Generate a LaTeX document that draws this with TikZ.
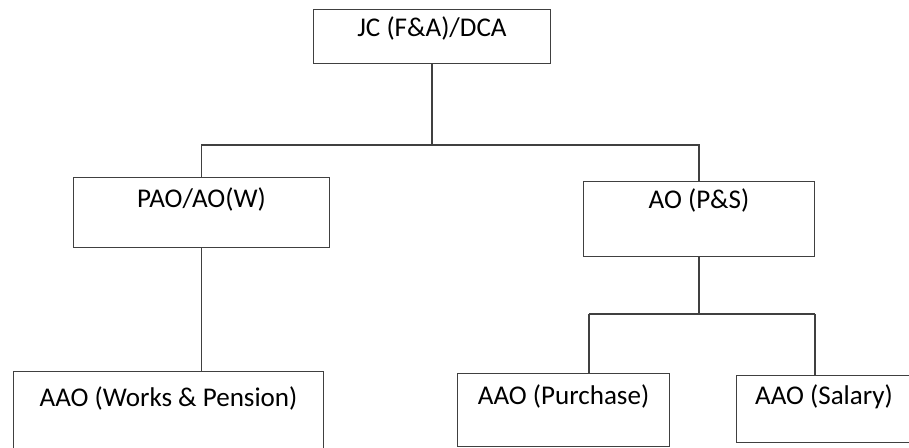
\documentclass[tikz,border=0pt]{standalone}
\usepackage{fontspec}
\setmainfont{Carlito}
\usetikzlibrary{positioning,calc}

\begin{document}
\begin{tikzpicture}[
  x=0.02cm, y=-0.02cm,
  every node/.style={font=\fontsize{15.4}{18}\selectfont},
  office/.style={rectangle, draw=black!75, line width=0.6pt, inner sep=0pt, anchor=north west, align=center},
  link/.style={draw=black!75, line width=0.6pt}
]
\useasboundingbox (0,0) rectangle (909,447);
\clip (0,0) rectangle (909,447);

% Top level
\node[office, minimum width=4.74cm, text height=0.54cm, text depth=0.54cm] (jc) at (313,9) {JC (F\&A)/DCA};

% Second level
\node[office, minimum width=5.12cm, text height=0.6cm, text depth=0.8cm] (pao) at (73,177) {PAO/AO(W)};
\node[office, minimum width=4.62cm, text height=0.54cm, text depth=0.96cm] (ao) at (583,181) {AO (P\&S)};

% Third level
\node[office, minimum width=6.2cm, text height=0.7cm, text depth=0.98cm] (works) at (13,371) {AAO (Works \& Pension)};
\node[office, minimum width=4.24cm, text height=0.62cm, text depth=0.84cm] (purchase) at (457,373) {AAO (Purchase)};
\node[office, minimum width=3.5cm, text height=0.58cm, text depth=0.76cm] (salary) at (736,375) {AAO (Salary)};

% Bus coordinates
\coordinate (bus1) at (435,145);
\coordinate (ptap) at (589,314);
\coordinate (stap) at (815,314);

% Connectors - top
\draw[link] (jc.south) -- (jc.south |- bus1);
\draw[link] (pao.north) -- (pao.north |- bus1) -| (ao.north);

% Connectors - left branch
\draw[link] (pao.south) -- (pao.south |- works.north);

% Connectors - right branch
\draw[link] (ao.south) -- (ao.south |- ptap);
\draw[link] (ptap) -- (stap);
\draw[link] (ptap) -- (ptap |- purchase.north);
\draw[link] (stap) -- (stap |- salary.north);

\end{tikzpicture}
\end{document}
